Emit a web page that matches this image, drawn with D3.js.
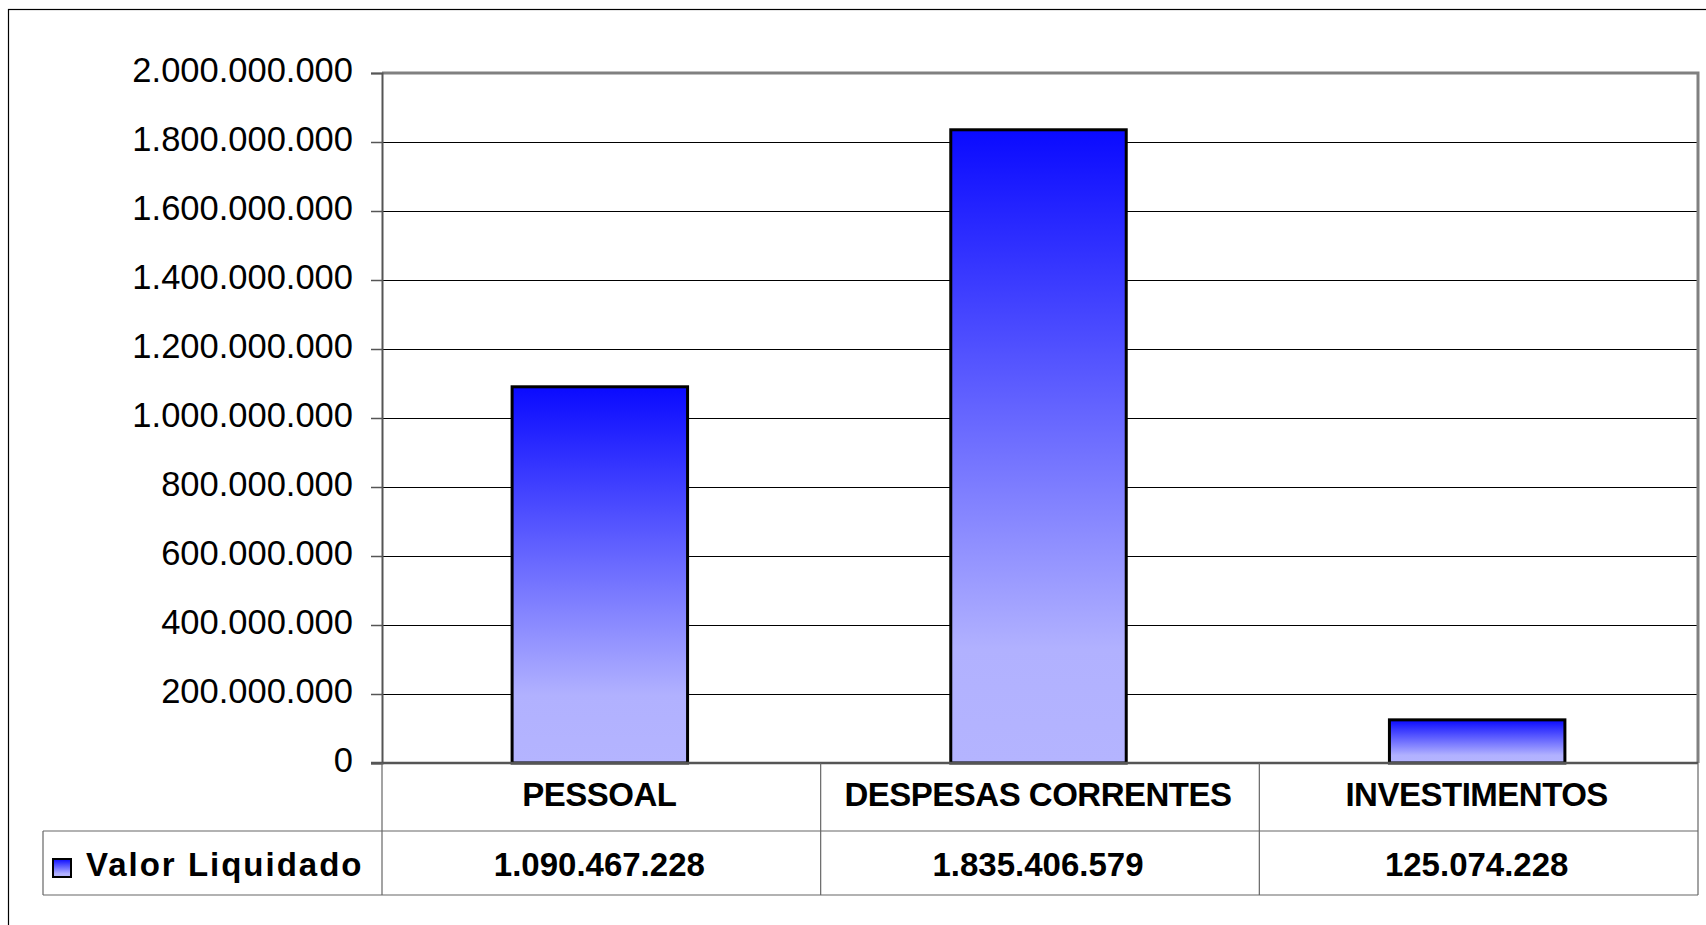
<!DOCTYPE html>
<html>
	<head>
		<meta charset="utf-8">
		<title> Valor Liquidado </title>
		<style>
			body { margin: 0; background: #fff; }
			svg { display: block; font-family: "Liberation Sans", Arial, sans-serif; }
			.grid line { stroke: #000; stroke-width: 1; }
			.tick-label { font-size: 34.5px; fill: #000; }
			.cell-text { font-size: 33px; font-weight: bold; fill: #000; }
		</style>
	</head>
	<body>
		<script src="https://cdn.jsdelivr.net/npm/d3@7"></script>
		<script>
				// data
				var categories = ["PESSOAL", "DESPESAS CORRENTES", "INVESTIMENTOS"];
				var values = [1090467228, 1835406579, 125074228];
				var seriesName = "Valor Liquidado";
				var yTicks = [0, 200000000, 400000000, 600000000, 800000000, 1000000000,
							  1200000000, 1400000000, 1600000000, 1800000000, 2000000000];

				var W = 1706, H = 925;
				var plot = {left: 382, top: 73, right: 1698, bottom: 763};
				var rowH = [68, 64];   // table rows below the plot
				var legendLeft = 43;

				// pt-BR number format: dots as thousands separator
				var br = d3.formatLocale({decimal: ",", thousands: ".", grouping: [3], currency: ["R$", ""]});
				var fmt = br.format(",d");

				var svg = d3.select("body").append("svg")
							.attr("width", W)
							.attr("height", H);

				var defs = svg.append("defs");
				var grad = defs.append("linearGradient")
							.attr("id", "barGrad")
							.attr("x1", 0).attr("y1", 0).attr("x2", 0).attr("y2", 1);
				grad.append("stop").attr("offset", "0%").attr("stop-color", "#0a0aff");
				grad.append("stop").attr("offset", "82%").attr("stop-color", "#b1b1ff");
				grad.append("stop").attr("offset", "100%").attr("stop-color", "#b4b4ff");

				// outer chart frame (runs past the right/bottom edges)
				svg.append("rect")
					.attr("x", 8.5).attr("y", 9.5)
					.attr("width", W).attr("height", H)
					.attr("fill", "none").attr("stroke", "#000").attr("stroke-width", 1.2);

				// scales
				var xScale = d3.scaleBand()
								.domain(categories)
								.range([plot.left, plot.right])
								.paddingInner(0)
								.paddingOuter(0);
				var yScale = d3.scaleLinear()
								.domain([0, 2000000000])
								.range([plot.bottom, plot.top]);

				// gridlines
				svg.append("g")
					.attr("class", "grid")
					.selectAll("line")
					.data(yTicks.filter(function(d) { return d > 0 && d < 2000000000; }))
					.enter().append("line")
					.attr("x1", plot.left).attr("x2", plot.right)
					.attr("y1", function(d) { return yScale(d) + 0.5; })
					.attr("y2", function(d) { return yScale(d) + 0.5; });

				// plot frame top / right (gray)
				svg.append("path")
					.attr("d", "M" + plot.left + "," + (plot.top) + "H" + plot.right + "V" + plot.bottom)
					.attr("fill", "none").attr("stroke", "#808080").attr("stroke-width", 3);

				// y axis
				var yAxis = svg.append("g")
								.attr("transform", "translate(" + plot.left + ",0)")
								.call(d3.axisLeft(yScale).tickValues(yTicks).tickSize(11).tickPadding(18).tickFormat(fmt));
				yAxis.select(".domain").attr("stroke", "#555").attr("stroke-width", 2);
				yAxis.selectAll(".tick line").attr("stroke", "#555").attr("stroke-width", 1.5);
				yAxis.selectAll("text")
					.attr("class", "tick-label")
					.attr("font-family", null)
					.attr("font-size", null)
					.attr("dy", "0.26em")
					.attr("fill", "#000");

				// bars
				var barW = xScale.bandwidth() * 0.4;
				svg.selectAll(".bar")
					.data(values)
					.enter().append("rect")
					.attr("class", "bar")
					.attr("x", function(d, i) { return xScale(categories[i]) + (xScale.bandwidth() - barW) / 2 - 1.5; })
					.attr("width", barW)
					.attr("y", function(d) { return yScale(d); })
					.attr("height", function(d) { return plot.bottom - yScale(d); })
					.attr("fill", "url(#barGrad)")
					.attr("stroke", "#000")
					.attr("stroke-width", 3);

				// category axis line
				svg.append("line")
					.attr("x1", plot.left - 11).attr("x2", plot.right)
					.attr("y1", plot.bottom).attr("y2", plot.bottom)
					.attr("stroke", "#555").attr("stroke-width", 2.5);

				// data table
				var table = svg.append("g").attr("fill", "none").attr("stroke", "#666").attr("stroke-width", 1.2);
				var r1 = plot.bottom + rowH[0], r2 = r1 + rowH[1];
				table.append("line").attr("x1", plot.left).attr("x2", plot.left).attr("y1", plot.bottom).attr("y2", r2);
				table.append("line").attr("x1", legendLeft).attr("x2", plot.right).attr("y1", r1).attr("y2", r1);
				table.append("line").attr("x1", legendLeft).attr("x2", plot.right).attr("y1", r2).attr("y2", r2);
				table.append("line").attr("x1", legendLeft).attr("x2", legendLeft).attr("y1", r1).attr("y2", r2);
				table.append("line").attr("x1", plot.right).attr("x2", plot.right).attr("y1", plot.bottom).attr("y2", r2);
				table.selectAll(".sep")
					.data(categories.slice(1))
					.enter().append("line")
					.attr("x1", function(d) { return xScale(d); })
					.attr("x2", function(d) { return xScale(d); })
					.attr("y1", plot.bottom).attr("y2", r2);

				// category names
				svg.selectAll(".cat")
					.data(categories)
					.enter().append("text")
					.attr("class", "cell-text")
					.attr("text-anchor", "middle")
					.attr("x", function(d) { return xScale(d) + xScale.bandwidth() / 2 - 2; })
					.attr("y", plot.bottom + 43)
					.style("letter-spacing", "-0.5px")
					.text(function(d) { return d; });

				// values row
				svg.selectAll(".val")
					.data(values)
					.enter().append("text")
					.attr("class", "cell-text")
					.attr("text-anchor", "middle")
					.attr("x", function(d, i) { return xScale(categories[i]) + xScale.bandwidth() / 2 - 2; })
					.attr("y", r1 + 45)
					.text(function(d) { return fmt(d); });

				// legend key + series name
				svg.append("rect")
					.attr("x", 53).attr("y", 859)
					.attr("width", 18).attr("height", 18)
					.attr("fill", "url(#barGrad)")
					.attr("stroke", "#000").attr("stroke-width", 2);
				svg.append("text")
					.attr("class", "cell-text")
					.attr("x", 86).attr("y", r1 + 45)
					.style("letter-spacing", "2px")
					.text(seriesName);
		</script>
	</body>
</html>
